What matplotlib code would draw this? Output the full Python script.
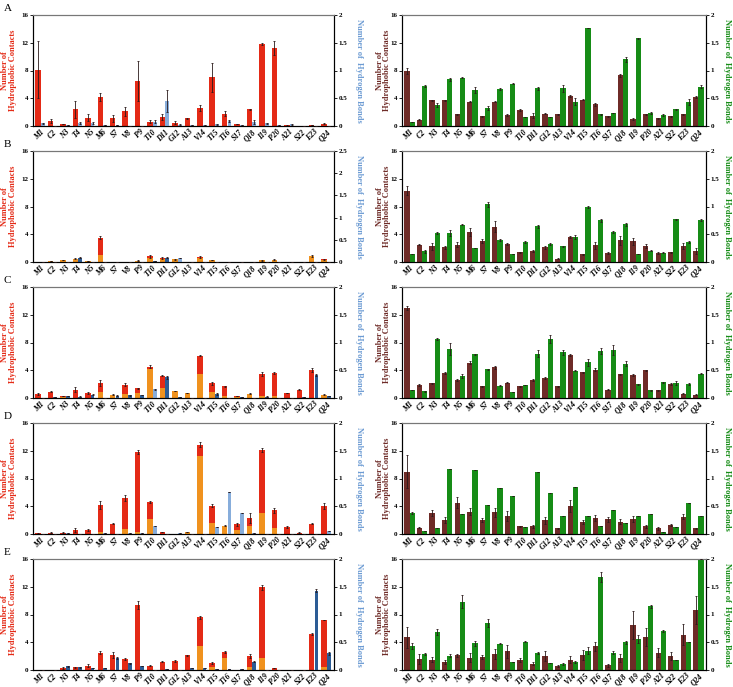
import matplotlib
matplotlib.use('Agg')
import matplotlib.pyplot as plt
import numpy as np

plt.rcParams['font.family'] = ['Liberation Serif', 'DejaVu Serif']
plt.rcParams['font.weight'] = 'bold'

residues = ['M1', 'C2', 'N3', 'T4', 'N5', 'M6', 'S7', 'V8', 'P9', 'T10', 'D11', 'G12',
            'A13', 'V14', 'T15', 'T16', 'S17', 'Q18', 'I19', 'P20', 'A21', 'S22', 'E23', 'Q24']
panel_letters = ['A', 'B', 'C', 'D', 'E']

# ---------------- left column (red/orange hydrophobic, blue H-bonds) ----------------
hyd_A_L = [8.1, 0.7, 0.3, 2.4, 1.2, 4.2, 1.1, 2.1, 6.5, 0.6, 1.3, 0.5, 1.1, 2.6, 7.0, 1.8, 0.3, 2.4, 11.8, 11.3, 0.1, 0.05, 0.1, 0.35]
org_A_L = [0] * 24
err_A_L = [4.1, 0.3, 0.05, 1.2, 0.5, 0.6, 0.5, 0.6, 2.9, 0.2, 0.5, 0.15, 0.1, 0.4, 2.1, 0.3, 0.05, 0.1, 0.15, 1.0, 0.05, 0, 0, 0.05]
hb_A_L = [0.05, 0, 0.01, 0.05, 0.06, 0.02, 0.02, 0, 0, 0.08, 0.45, 0.02, 0.01, 0.01, 0.03, 0.09, 0.02, 0.07, 0.05, 0.01, 0.03, 0, 0, 0]
hberr_A_L = [0.01, 0, 0, 0.02, 0.02, 0, 0, 0, 0, 0.03, 0.19, 0.01, 0, 0, 0.01, 0.01, 0, 0.03, 0.01, 0, 0.01, 0, 0, 0]
hbtype_A_L = 'LLLLLLLLLLLLLLLLLLLLLLLL'

hyd_B_L = [0.05, 0.15, 0.3, 0.5, 0.15, 3.5, 0.05, 0.05, 0.2, 0.8, 0.6, 0.4, 0.05, 0.7, 0.3, 0.05, 0.05, 0.0, 0.25, 0.35, 0.05, 0.05, 0.9, 0.4]
org_B_L = [0.05, 0.1, 0.25, 0.4, 0.1, 1.0, 0.05, 0.05, 0.15, 0.6, 0.5, 0.4, 0.05, 0.6, 0.3, 0.05, 0.05, 0.0, 0.25, 0.3, 0.05, 0.05, 0.8, 0.3]
err_B_L = [0, 0.05, 0.05, 0.1, 0.05, 0.2, 0, 0, 0.05, 0.2, 0.15, 0.05, 0, 0.1, 0.05, 0, 0, 0, 0.05, 0.05, 0, 0, 0.15, 0.1]
hb_B_L = [0.01, 0, 0, 0.1, 0.01, 0.01, 0.01, 0.01, 0, 0.02, 0.1, 0.09, 0.01, 0, 0, 0.01, 0.01, 0, 0, 0, 0.01, 0.01, 0.01, 0]
hberr_B_L = [0, 0, 0, 0.01, 0, 0, 0, 0, 0, 0, 0.01, 0.01, 0, 0, 0, 0, 0, 0, 0, 0, 0, 0, 0, 0]
hbtype_B_L = 'DDDDDDDDDDDLDDDDDDDDDDDD'

hyd_C_L = [0.6, 0.9, 0.3, 1.2, 0.7, 2.2, 0.5, 1.9, 1.4, 4.5, 3.2, 1.0, 0.7, 6.1, 2.1, 1.7, 0.3, 0.6, 3.5, 3.6, 0.7, 1.2, 4.0, 0.5]
org_C_L = [0, 0, 0.2, 0, 0, 0.9, 0.4, 0.6, 0.7, 4.2, 1.5, 1.0, 0.7, 3.5, 0.8, 0.3, 0.2, 0.6, 0.3, 0.3, 0, 0, 0, 0.4]
err_C_L = [0.1, 0.1, 0.05, 0.4, 0.1, 0.4, 0.05, 0.2, 0.1, 0.2, 0.1, 0.05, 0.05, 0.1, 0.2, 0.1, 0.05, 0.05, 0.3, 0.1, 0.05, 0.1, 0.3, 0.05]
hb_C_L = [0, 0.01, 0.03, 0.02, 0.06, 0, 0.04, 0.05, 0.05, 0.16, 0.37, 0.01, 0, 0, 0.07, 0, 0.02, 0, 0.02, 0, 0, 0.02, 0.42, 0.03]
hberr_C_L = [0, 0, 0, 0.01, 0.01, 0, 0.01, 0.01, 0, 0.01, 0.02, 0, 0, 0, 0.02, 0, 0, 0, 0.01, 0, 0, 0, 0.02, 0]
hbtype_C_L = 'DDDDDDDDDLDDDDDDDDDDDDDD'

hyd_D_L = [0.1, 0.2, 0.2, 0.6, 0.6, 4.2, 1.5, 5.2, 11.8, 4.6, 0.3, 0.0, 0.3, 12.9, 4.1, 1.2, 1.4, 2.3, 12.1, 3.4, 1.0, 0.2, 1.5, 4.0]
org_D_L = [0, 0, 0, 0, 0, 0.3, 0, 0.7, 0.3, 2.1, 0, 0, 0.3, 11.3, 1.6, 1.1, 0.6, 1.1, 3.0, 0.9, 0, 0, 0, 0]
err_D_L = [0.05, 0.1, 0.1, 0.3, 0.1, 0.6, 0.05, 0.4, 0.3, 0.1, 0.05, 0, 0.05, 0.3, 0.2, 0.1, 0.2, 0.7, 0.3, 0.4, 0.1, 0.05, 0.05, 0.4]
hb_D_L = [0, 0, 0.01, 0, 0, 0.01, 0, 0.01, 0.01, 0.14, 0, 0.01, 0, 0, 0.12, 0.75, 0.38, 0.02, 0, 0, 0, 0, 0, 0.05]
hberr_D_L = [0] * 24
hbtype_D_L = 'LLLLLLLLLLLLLLLLLLLLLLLL'

hyd_E_L = [0.05, 0.05, 0.3, 0.4, 0.6, 2.5, 2.2, 1.6, 9.4, 0.6, 1.2, 1.3, 2.1, 7.6, 1.0, 2.6, 0, 2.0, 11.9, 0.3, 0, 0, 5.2, 7.2]
org_E_L = [0, 0, 0, 0, 0, 0, 0, 0, 0, 0, 0, 0, 0, 3.4, 0.5, 1.7, 0, 0.4, 1.8, 0, 0, 0, 0, 0.4]
err_E_L = [0, 0, 0.1, 0.1, 0.2, 0.2, 0.4, 0.1, 0.6, 0.05, 0.05, 0.1, 0.1, 0.2, 0.2, 0.2, 0, 0.3, 0.3, 0.05, 0, 0, 0.1, 0.05]
hb_E_L = [0, 0, 0.07, 0.05, 0.03, 0.03, 0.21, 0.12, 0.07, 0, 0.01, 0, 0.03, 0.03, 0.01, 0.01, 0.01, 0.15, 0, 0, 0, 0, 1.43, 0.3]
hberr_E_L = [0, 0, 0.01, 0.01, 0, 0, 0.02, 0.01, 0, 0, 0, 0, 0, 0, 0, 0, 0, 0.01, 0, 0, 0, 0, 0.03, 0.03]
hbtype_E_L = 'DDDDDDDDDDDDDDDDDDDDDDDD'

# ---------------- right column (maroon hydrophobic, green H-bonds) ----------------
hyd_A_R = [7.9, 0.9, 3.7, 3.7, 1.7, 3.5, 1.4, 3.5, 1.6, 2.3, 1.5, 1.8, 1.7, 4.3, 3.8, 3.1, 1.4, 7.3, 1.0, 1.7, 1.1, 1.4, 1.7, 4.2]
err_A_R = [0.4, 0.1, 0.1, 0.1, 0.1, 0.1, 0.1, 0.1, 0.2, 0.1, 0.4, 0.1, 0.1, 0.1, 0.1, 0.2, 0.1, 0.2, 0.1, 0.1, 0.1, 0.1, 0.1, 0.1]
hb_A_R = [0.08, 0.72, 0.38, 0.84, 0.87, 0.65, 0.32, 0.66, 0.76, 0.16, 0.68, 0.17, 0.68, 0.44, 1.77, 0.21, 0.23, 1.2, 1.58, 0.24, 0.2, 0.3, 0.43, 0.71]
hberr_A_R = [0, 0.01, 0.03, 0.03, 0.01, 0.05, 0.04, 0.02, 0.01, 0, 0.03, 0, 0.06, 0.06, 0, 0.01, 0, 0.04, 0.01, 0.02, 0.02, 0.01, 0.05, 0.02]

hyd_B_R = [10.3, 2.5, 2.3, 2.1, 2.5, 4.3, 3.0, 5.1, 2.6, 1.4, 1.6, 2.1, 0.5, 3.6, 1.1, 2.4, 1.3, 3.1, 3.0, 2.3, 1.3, 1.4, 2.3, 1.6]
err_B_R = [0.7, 0.1, 0.5, 0.2, 0.4, 0.6, 0.3, 0.8, 0.2, 0.1, 0.1, 0.2, 0.05, 0.1, 0.05, 0.5, 0.1, 0.6, 0.5, 0.3, 0.1, 0.1, 0.4, 0.4]
hb_B_R = [0.15, 0.19, 0.52, 0.52, 0.67, 0.25, 1.04, 0.4, 0.14, 0.36, 0.64, 0.33, 0.28, 0.45, 0.99, 0.75, 0.54, 0.68, 0.15, 0.2, 0.17, 0.77, 0.36, 0.76]
hberr_B_R = [0, 0.02, 0.02, 0.05, 0.01, 0, 0.04, 0.02, 0, 0.01, 0.02, 0.02, 0.01, 0.04, 0.02, 0.03, 0.01, 0.03, 0, 0.01, 0.01, 0.01, 0.01, 0.02]

hyd_C_R = [13.0, 1.9, 2.1, 3.6, 2.6, 5.1, 1.7, 4.4, 2.2, 1.7, 2.6, 2.9, 1.7, 6.2, 3.7, 4.1, 1.2, 3.4, 3.3, 4.0, 1.1, 2.0, 0.6, 0.5]
err_C_R = [0.3, 0.1, 0.1, 0.1, 0.1, 0.2, 0.1, 0.2, 0.1, 0.1, 0.1, 0.1, 0.1, 0.2, 0.1, 0.2, 0.1, 0.1, 0.1, 0.1, 0.1, 0.1, 0.05, 0.05]
hb_C_R = [0.14, 0.12, 1.06, 0.89, 0.4, 0.79, 0.52, 0.22, 0.1, 0.24, 0.8, 1.07, 0.82, 0.49, 0.64, 0.85, 0.87, 0.62, 0.25, 0.14, 0.28, 0.27, 0.25, 0.44]
hberr_C_R = [0, 0.01, 0.02, 0.11, 0.04, 0.01, 0.01, 0.01, 0, 0, 0.06, 0.07, 0.04, 0.01, 0.06, 0.05, 0.09, 0.04, 0.01, 0.01, 0.01, 0.04, 0.02, 0.01]

hyd_D_R = [9.0, 0.9, 3.0, 2.0, 4.5, 3.2, 2.0, 3.1, 2.6, 1.1, 1.1, 2.0, 0.8, 4.0, 1.7, 2.3, 2.1, 1.8, 2.2, 1.1, 0.8, 1.3, 2.5, 0.8]
err_D_R = [2.4, 0.1, 0.4, 0.4, 0.8, 0.5, 0.3, 0.7, 0.7, 0.1, 0.2, 0.5, 0.1, 0.9, 0.3, 0.4, 0.4, 0.4, 0.4, 0.2, 0.2, 0.2, 0.4, 0.1]
hb_D_R = [0.38, 0.05, 0.1, 1.17, 0.36, 1.16, 0.52, 0.83, 0.69, 0.12, 1.12, 0.73, 0.32, 0.85, 0.33, 0.14, 0.43, 0.19, 0.33, 0.36, 0.04, 0.12, 0.56, 0.33]
hberr_D_R = [0.02] + [0] * 23

hyd_E_R = [4.7, 1.6, 1.5, 1.1, 2.1, 1.8, 1.9, 2.3, 2.7, 1.4, 0.9, 2.0, 0.6, 1.5, 2.2, 3.4, 0.7, 1.7, 6.5, 4.8, 2.5, 2.0, 5.1, 8.7]
err_E_R = [1.5, 0.7, 0.4, 0.3, 0.2, 0.6, 0.3, 0.7, 0.9, 0.3, 0.2, 0.7, 0.1, 0.5, 0.7, 0.6, 0.2, 0.6, 2.0, 1.3, 0.6, 0.6, 1.5, 2.0]
hb_E_R = [0.43, 0.29, 0.68, 0.26, 1.23, 0.48, 0.84, 0.47, 0.14, 0.51, 0.3, 0.13, 0.11, 0.15, 0.35, 1.68, 0.31, 0.5, 0.56, 1.15, 0.7, 0.18, 0.51, 2.0]
hberr_E_R = [0.05, 0.02, 0.05, 0.03, 0.12, 0.04, 0.07, 0.01, 0, 0.01, 0.02, 0, 0.02, 0.02, 0.07, 0.09, 0.03, 0.03, 0.07, 0.03, 0.02, 0, 0, 0]

left_data = [
    (hyd_A_L, org_A_L, err_A_L, hb_A_L, hberr_A_L, hbtype_A_L, 2.0),
    (hyd_B_L, org_B_L, err_B_L, hb_B_L, hberr_B_L, hbtype_B_L, 2.5),
    (hyd_C_L, org_C_L, err_C_L, hb_C_L, hberr_C_L, hbtype_C_L, 2.0),
    (hyd_D_L, org_D_L, err_D_L, hb_D_L, hberr_D_L, hbtype_D_L, 2.0),
    (hyd_E_L, org_E_L, err_E_L, hb_E_L, hberr_E_L, hbtype_E_L, 2.0),
]
right_data = [
    (hyd_A_R, err_A_R, hb_A_R, hberr_A_R),
    (hyd_B_R, err_B_R, hb_B_R, hberr_B_R),
    (hyd_C_R, err_C_R, hb_C_R, hberr_C_R),
    (hyd_D_R, err_D_R, hb_D_R, hberr_D_R),
    (hyd_E_R, err_E_R, hb_E_R, hberr_E_R),
]

RED = '#e42a16'
ORANGE = '#f0921e'
LBLUE = '#87addb'
DBLUE = '#2c5c95'
MAROON = '#6e2b27'
GREEN = '#168c16'
LBL_BLUE = '#6c9bd3'

W, H = 733, 687
fig = plt.figure(figsize=(W / 100, H / 100), dpi=100)

row_tops = [15, 151, 287, 423, 559]
ax_h = 111
col_x = [(33, 301), (402, 304)]

x = np.arange(len(residues))


def style_axes(ax, ax2, rmax, lcolor, rcolor):
    ax.set_xlim(-0.6, 23.6)
    ax.set_ylim(0, 16)
    ax.set_yticks([0, 4, 8, 12, 16])
    ax2.set_ylim(0, rmax)
    rt = np.arange(0, rmax + 0.01, 0.5)
    ax2.set_yticks(rt)
    ax2.set_yticklabels([('%g' % v) for v in rt])
    ax.set_xticks(x)
    ax.set_xticklabels(residues, rotation=45, ha='right', rotation_mode='anchor',
                       fontsize=5.6, fontstyle='italic', fontweight='bold')
    ax.tick_params(axis='x', length=0, pad=1.5)
    ax.tick_params(axis='y', labelsize=5, length=2, width=0.6, pad=1.2)
    ax2.tick_params(axis='y', labelsize=5, length=2, width=0.6, pad=1.2)
    for a in (ax, ax2):
        for s in a.spines.values():
            s.set_linewidth(0.8)
        a.spines['top'].set_color('#777777')
    ax.set_ylabel('Number of\nHydrophobic Contacts', color=lcolor, fontsize=6,
                  fontweight='bold', linespacing=0.95)
    ax2.set_ylabel('Number of  Hydrogen Bonds', color=rcolor, fontsize=6,
                   fontweight='bold', rotation=270)


ekw = dict(fmt='none', ecolor='#2a1a1a', elinewidth=0.6, capsize=1.0, capthick=0.6)

for r in range(5):
    top = row_tops[r]
    # left column
    x0, w0 = col_x[0]
    ax = fig.add_axes([x0 / W, (H - top - ax_h) / H, w0 / W, ax_h / H])
    ax2 = ax.twinx()
    hyd, org, err, hb, hberr, hbtype, rmax = left_data[r]
    hyd = np.array(hyd, float)
    org = np.array(org, float)
    xr = x - 0.19
    xb = x + 0.19
    ax.bar(xr, org, width=0.44, color=ORANGE, edgecolor='none', zorder=2)
    ax.bar(xr, hyd - org, bottom=org, width=0.44, color=RED, edgecolor='none', zorder=2)
    ax.errorbar(xr, hyd, yerr=err, **ekw, zorder=3)
    cols = [DBLUE if t == 'D' else LBLUE for t in hbtype]
    ax2.bar(xb, hb, width=0.3, color=cols, edgecolor='none', zorder=2)
    ax2.errorbar(xb, hb, yerr=hberr, **ekw, zorder=3)
    style_axes(ax, ax2, rmax, RED, LBL_BLUE)
    ax.yaxis.set_label_coords(-0.053, 0.5)
    ax2.yaxis.set_label_coords(1.096, 0.5)
    fig.text(4 / W, 1 - (top - 11) / H, panel_letters[r], fontsize=8, fontweight='normal',
             va='top', ha='left', family='Liberation Serif')

    # right column
    x1, w1 = col_x[1]
    axr = fig.add_axes([x1 / W, (H - top - ax_h) / H, w1 / W, ax_h / H])
    axr2 = axr.twinx()
    hydr, errr, hbr, hberrr = right_data[r]
    axr.bar(x - 0.21, hydr, width=0.42, color=MAROON, edgecolor='none', zorder=2)
    axr.errorbar(x - 0.21, hydr, yerr=errr, **ekw, zorder=3)
    axr2.bar(x + 0.21, hbr, width=0.42, color=GREEN, edgecolor='none', zorder=2)
    axr2.errorbar(x + 0.21, hbr, yerr=hberrr, **ekw, zorder=3)
    style_axes(axr, axr2, 2.0, MAROON, GREEN)
    axr.yaxis.set_label_coords(-0.035, 0.5)
    axr2.yaxis.set_label_coords(1.083, 0.5)

fig.savefig('out.png', dpi=100)
